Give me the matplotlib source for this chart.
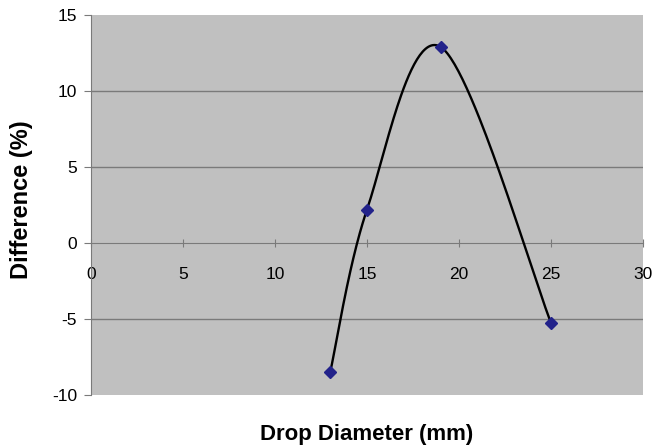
import numpy as np
import matplotlib.pyplot as plt

# drop diameter (mm) vs difference (%)
diameter = [13, 15, 19, 25]
difference = [-8.5, 2.2, 12.9, -5.25]

x_ticks = [0, 5, 10, 15, 20, 25, 30]
y_ticks = [-10, -5, 0, 5, 10, 15]


def smooth_line(xs, ys, sx, sy, n=60):
    # Excel-like smoothed line: Catmull-Rom Bezier, computed in screen-ish units
    p = np.column_stack([np.asarray(xs, float) * sx, np.asarray(ys, float) * sy])
    pts = []
    t = np.linspace(0, 1, n)[:, None]
    for i in range(len(p) - 1):
        p0 = p[i - 1] if i > 0 else p[i]
        p3 = p[i + 2] if i + 2 < len(p) else p[i + 1]
        c1 = p[i] + (p[i + 1] - p0) / 6
        c2 = p[i + 1] - (p3 - p[i]) / 6
        seg = ((1 - t) ** 3) * p[i] + 3 * ((1 - t) ** 2) * t * c1 \
            + 3 * (1 - t) * t ** 2 * c2 + t ** 3 * p[i + 1]
        pts.append(seg)
    pts = np.vstack(pts)
    return pts[:, 0] / sx, pts[:, 1] / sy


plt.rcParams['font.family'] = ['Liberation Sans', 'DejaVu Sans']
plt.rcParams['axes.unicode_minus'] = False

fig = plt.figure(figsize=(6.55, 4.45), dpi=100)
ax = fig.add_axes([91 / 655, 50 / 445, 552 / 655, 380 / 445])
ax.set_facecolor("#c0c0c0")

ax.set_xlim(0, 30)
ax.set_ylim(-10, 15)

for v in [-5, 5, 10]:
    ax.axhline(v, color="#7a7a7a", linewidth=1.0, zorder=1)

sx = 552 / 30
sy = 380 / 25
cx, cy = smooth_line(diameter, difference, sx, sy)
ax.plot(cx, cy, color="black", linewidth=1.7, zorder=3)
ax.plot(diameter, difference, linestyle="none", marker="D", markersize=6.5,
        color="#22228a", zorder=4, clip_on=False)

ax.spines[['right', 'top']].set_visible(False)
ax.spines['bottom'].set_position(('data', 0))
ax.spines['bottom'].set_color("#7a7a7a")
ax.spines['left'].set_color("#7a7a7a")
ax.spines['bottom'].set_zorder(2)

ax.set_xticks(x_ticks)
ax.set_yticks(y_ticks)
ax.tick_params(axis='x', direction='inout', length=6, color="#7a7a7a",
               labelsize=12.5, pad=14)
ax.tick_params(axis='y', direction='out', length=5, color="#7a7a7a",
               labelsize=12.5, pad=5)

ax.set_xlabel("Drop Diameter (mm)", fontsize=16, fontweight='bold')
ax.xaxis.set_label_coords(0.5, -0.077)
ax.set_ylabel("Difference (%)", fontsize=17, fontweight='bold')
ax.yaxis.set_label_coords(-0.105, 0.515)

fig.savefig("out.png", dpi=100)
